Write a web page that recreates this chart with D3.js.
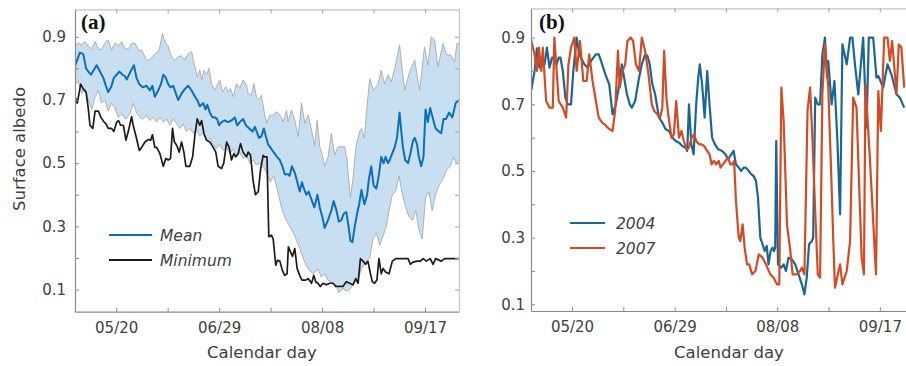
<!DOCTYPE html>
<html>
<head>
<meta charset="utf-8">
<script src="https://cdn.jsdelivr.net/npm/d3@7"></script>
<style>
  body { margin: 0; background: #fff; }
  svg { display: block; font-family: "DejaVu Sans", sans-serif; }
</style>
</head>
<body>
<svg id="chart" width="906" height="366"></svg>
<script>
// day of year -> value
const xTickDays = [140, 160, 180, 200, 220, 240, 260];
const xTickLabels = ["05/20", "", "06/29", "", "08/08", "", "09/17"];
const yTickVals = [0.1, 0.2, 0.3, 0.4, 0.5, 0.6, 0.7, 0.8, 0.9];
const yTickLabels = ["0.1", "", "0.3", "", "0.5", "", "0.7", "", "0.9"];

// panel (a)
const meanA = [[124.0,0.807],[125.9,0.85],[127.2,0.845],[128.3,0.80],[129.2,0.79],[130.2,0.78],[132.4,0.81],[133.7,0.79],[135.0,0.77],[136.0,0.745],[136.9,0.725],[138.0,0.74],[139.1,0.77],[140.2,0.78],[141.2,0.79],[142.5,0.78],[143.4,0.775],[144.1,0.765],[145.6,0.79],[146.9,0.81],[147.9,0.77],[149.0,0.75],[150.3,0.74],[151.8,0.745],[153.1,0.73],[154.1,0.745],[155.0,0.71],[156.3,0.73],[157.4,0.75],[158.3,0.78],[159.3,0.77],[160.2,0.75],[161.1,0.74],[162.2,0.745],[163.2,0.72],[164.1,0.70],[165.4,0.72],[166.7,0.735],[168.0,0.745],[169.3,0.73],[170.6,0.71],[171.5,0.70],[172.5,0.68],[173.8,0.69],[174.7,0.67],[175.4,0.685],[176.4,0.66],[177.4,0.645],[178.3,0.645],[179.2,0.64],[180.0,0.62],[180.9,0.63],[182.2,0.635],[183.5,0.63],[184.8,0.635],[186.1,0.645],[187.0,0.62],[188.0,0.63],[189.3,0.64],[190.4,0.62],[191.7,0.61],[193.0,0.60],[193.9,0.615],[194.8,0.595],[195.5,0.58],[196.4,0.585],[197.4,0.61],[198.0,0.59],[199.0,0.56],[199.9,0.55],[200.7,0.54],[201.6,0.53],[202.5,0.52],[203.6,0.51],[204.6,0.49],[205.5,0.465],[206.8,0.465],[207.4,0.46],[208.3,0.49],[209.4,0.47],[210.4,0.44],[211.3,0.41],[212.2,0.44],[212.9,0.42],[213.9,0.40],[214.8,0.41],[216.1,0.38],[217.0,0.36],[218.2,0.40],[219.1,0.36],[220.1,0.33],[221.0,0.295],[222.3,0.32],[223.6,0.35],[224.5,0.38],[225.6,0.35],[226.5,0.315],[227.5,0.32],[228.4,0.34],[229.4,0.345],[230.3,0.30],[231.0,0.255],[231.8,0.25],[232.7,0.30],[233.6,0.34],[234.4,0.37],[235.3,0.415],[235.9,0.39],[236.5,0.37],[237.5,0.40],[238.2,0.45],[239.1,0.49],[240.0,0.43],[241.1,0.42],[242.0,0.46],[243.0,0.52],[243.9,0.50],[244.7,0.52],[245.6,0.50],[246.3,0.51],[247.2,0.53],[248.2,0.55],[249.1,0.58],[250.1,0.66],[250.8,0.60],[251.4,0.55],[252.3,0.51],[253.4,0.50],[254.3,0.53],[255.3,0.57],[256.0,0.58],[256.9,0.56],[257.6,0.52],[258.5,0.49],[259.4,0.52],[260.2,0.67],[261.1,0.63],[262.0,0.675],[263.1,0.64],[264.1,0.61],[265.4,0.60],[266.3,0.595],[267.2,0.64],[268.2,0.64],[269.3,0.66],[270.6,0.645],[271.9,0.69],[273.2,0.70]];

const upperA = [[124.0,0.87],[125.3,0.88],[126.6,0.875],[127.9,0.885],[129.2,0.87],[130.5,0.862],[131.8,0.885],[133.1,0.862],[134.3,0.858],[135.6,0.88],[136.9,0.89],[138.2,0.858],[139.5,0.88],[140.8,0.87],[142.1,0.885],[143.4,0.862],[144.7,0.862],[146.0,0.88],[147.3,0.88],[148.6,0.858],[149.9,0.858],[151.2,0.837],[151.8,0.826],[152.8,0.826],[154.1,0.837],[155.4,0.847],[156.7,0.858],[158.0,0.91],[158.9,0.885],[160.2,0.87],[161.5,0.837],[162.8,0.826],[164.1,0.837],[165.4,0.84],[166.7,0.826],[168.0,0.847],[169.3,0.853],[170.6,0.805],[171.5,0.773],[172.5,0.794],[173.2,0.763],[174.1,0.794],[175.1,0.78],[176.1,0.80],[177.0,0.752],[178.3,0.731],[179.2,0.747],[180.3,0.763],[181.3,0.726],[182.6,0.742],[183.5,0.726],[184.4,0.737],[185.5,0.71],[186.7,0.752],[188.0,0.737],[189.3,0.763],[190.6,0.747],[191.3,0.72],[192.6,0.715],[193.5,0.752],[194.5,0.71],[195.5,0.70],[196.4,0.715],[197.4,0.668],[198.4,0.626],[199.7,0.652],[201.0,0.652],[202.3,0.663],[203.6,0.652],[204.9,0.631],[206.2,0.668],[206.8,0.631],[208.1,0.668],[209.4,0.636],[210.7,0.584],[212.0,0.69],[213.3,0.626],[214.6,0.652],[215.9,0.605],[217.1,0.557],[218.1,0.636],[219.1,0.552],[220.1,0.526],[221.0,0.49],[222.3,0.52],[223.6,0.594],[224.9,0.526],[226.2,0.552],[228.8,0.552],[229.7,0.51],[231.0,0.39],[232.0,0.45],[233.1,0.55],[234.6,0.60],[235.3,0.61],[236.5,0.58],[237.2,0.657],[238.5,0.768],[240.0,0.73],[241.7,0.75],[243.0,0.794],[244.3,0.75],[245.6,0.78],[246.9,0.757],[248.2,0.80],[250.1,0.874],[252.1,0.731],[254.0,0.79],[256.0,0.826],[257.9,0.731],[259.8,0.868],[261.1,0.81],[262.4,0.90],[263.7,0.89],[265.0,0.805],[267.0,0.879],[268.2,0.845],[270.2,0.84],[271.5,0.82],[272.4,0.879],[273.2,0.88]];

const lowerA = [[124.0,0.75],[125.3,0.76],[126.6,0.72],[127.9,0.735],[129.2,0.70],[130.5,0.67],[131.8,0.71],[133.1,0.73],[134.3,0.69],[135.6,0.70],[136.9,0.665],[138.2,0.69],[139.5,0.675],[140.8,0.645],[142.1,0.655],[143.8,0.64],[145.3,0.655],[146.6,0.69],[147.9,0.66],[149.2,0.645],[150.5,0.64],[151.8,0.65],[153.1,0.635],[154.4,0.645],[155.7,0.63],[157.0,0.645],[158.3,0.63],[159.6,0.64],[160.9,0.62],[162.2,0.64],[163.5,0.625],[164.8,0.61],[166.0,0.625],[167.3,0.60],[168.6,0.61],[169.9,0.595],[171.2,0.605],[172.5,0.585],[173.8,0.595],[175.1,0.57],[176.4,0.58],[177.7,0.56],[179.0,0.545],[180.3,0.56],[181.6,0.54],[182.9,0.55],[184.2,0.53],[185.5,0.545],[186.7,0.52],[188.0,0.535],[189.3,0.515],[190.6,0.525],[191.9,0.50],[193.2,0.51],[194.5,0.495],[195.8,0.50],[197.1,0.49],[198.4,0.47],[199.9,0.44],[201.2,0.46],[202.5,0.42],[204.2,0.36],[205.5,0.33],[207.4,0.30],[209.4,0.27],[211.3,0.23],[212.6,0.20],[213.9,0.175],[215.2,0.16],[216.5,0.15],[218.4,0.165],[219.7,0.14],[221.0,0.15],[222.3,0.13],[224.3,0.12],[225.6,0.11],[226.6,0.09],[228.1,0.105],[229.4,0.095],[230.7,0.10],[232.0,0.115],[234.0,0.135],[235.3,0.165],[237.2,0.19],[238.5,0.20],[239.8,0.26],[241.1,0.28],[242.4,0.24],[243.7,0.27],[245.0,0.30],[246.0,0.35],[247.3,0.40],[248.6,0.41],[249.9,0.46],[251.2,0.40],[252.5,0.36],[253.8,0.33],[255.1,0.32],[256.4,0.35],[257.6,0.29],[258.9,0.26],[260.2,0.39],[261.5,0.41],[262.8,0.35],[264.1,0.40],[265.4,0.43],[267.0,0.45],[268.5,0.48],[269.8,0.49],[271.1,0.52],[272.2,0.50],[273.2,0.51]];

const minA = [[124.0,0.71],[124.9,0.69],[126.2,0.75],[127.2,0.735],[128.3,0.725],[129.2,0.67],[129.8,0.62],[130.9,0.61],[131.8,0.665],[133.1,0.665],[134.1,0.645],[135.3,0.63],[136.0,0.625],[136.9,0.61],[138.2,0.61],[139.1,0.60],[140.2,0.63],[140.9,0.635],[141.7,0.62],[142.8,0.62],[143.8,0.573],[144.7,0.60],[146.0,0.647],[146.6,0.62],[147.7,0.585],[149.0,0.54],[149.9,0.55],[151.2,0.567],[152.5,0.575],[153.4,0.573],[154.1,0.59],[155.0,0.55],[155.7,0.55],[157.0,0.53],[158.3,0.49],[159.3,0.515],[160.2,0.51],[161.1,0.515],[161.9,0.61],[162.6,0.567],[163.5,0.557],[164.5,0.535],[165.4,0.567],[166.3,0.535],[167.1,0.49],[168.6,0.49],[169.7,0.52],[170.6,0.59],[171.5,0.64],[172.5,0.62],[173.2,0.635],[174.1,0.594],[175.1,0.573],[176.4,0.567],[177.7,0.55],[178.7,0.535],[179.6,0.49],[180.9,0.483],[181.8,0.50],[182.9,0.567],[183.9,0.55],[184.8,0.51],[185.7,0.53],[186.5,0.52],[187.4,0.53],[188.3,0.562],[189.3,0.535],[190.6,0.52],[191.3,0.535],[192.2,0.525],[193.2,0.445],[194.1,0.40],[195.2,0.41],[196.1,0.48],[197.1,0.525],[197.7,0.52],[198.6,0.52],[199.3,0.267],[200.3,0.272],[201.0,0.26],[202.0,0.177],[202.7,0.193],[203.6,0.19],[204.6,0.16],[205.5,0.145],[206.4,0.15],[206.9,0.235],[207.7,0.22],[208.5,0.205],[209.4,0.23],[210.3,0.167],[211.3,0.145],[212.2,0.13],[213.7,0.13],[214.6,0.135],[215.9,0.12],[216.8,0.145],[217.5,0.125],[218.4,0.12],[219.3,0.11],[220.4,0.12],[221.7,0.115],[223.0,0.12],[224.3,0.12],[225.3,0.11],[226.9,0.11],[228.1,0.11],[229.4,0.125],[230.7,0.12],[232.0,0.115],[233.1,0.135],[234.0,0.12],[234.9,0.198],[235.9,0.19],[236.9,0.18],[237.8,0.19],[238.8,0.15],[239.5,0.125],[240.4,0.12],[241.3,0.13],[242.1,0.198],[243.0,0.15],[243.7,0.167],[244.7,0.156],[246.0,0.15],[247.3,0.19],[248.6,0.198],[253.4,0.198],[254.3,0.18],[255.3,0.187],[256.9,0.19],[258.2,0.19],[259.2,0.198],[260.5,0.19],[262.0,0.198],[263.1,0.18],[264.1,0.198],[266.3,0.19],[267.6,0.198],[273.2,0.198]];

// panel (b)
const y2004 = [[124.1,0.743],[125.4,0.80],[126.3,0.868],[127.3,0.81],[128.4,0.815],[129.3,0.82],[130.2,0.87],[131.2,0.81],[132.2,0.84],[133.1,0.84],[134.0,0.82],[134.8,0.84],[135.5,0.84],[136.4,0.80],[137.4,0.72],[138.3,0.70],[139.6,0.70],[140.5,0.80],[141.8,0.90],[142.8,0.85],[144.8,0.82],[146.1,0.81],[147.4,0.83],[149.3,0.85],[150.4,0.85],[151.3,0.83],[153.0,0.79],[154.5,0.76],[155.8,0.67],[157.1,0.70],[158.4,0.76],[159.4,0.82],[160.3,0.78],[161.4,0.73],[162.5,0.70],[163.3,0.69],[164.6,0.71],[165.9,0.77],[167.2,0.82],[168.5,0.85],[169.4,0.845],[170.3,0.82],[171.3,0.76],[172.4,0.73],[173.9,0.66],[175.2,0.645],[176.5,0.625],[177.8,0.62],[179.1,0.60],[180.4,0.59],[181.7,0.585],[183.0,0.575],[184.3,0.57],[184.9,0.56],[185.6,0.70],[186.5,0.58],[187.4,0.55],[188.4,0.70],[189.2,0.78],[189.8,0.82],[190.7,0.76],[191.7,0.66],[192.7,0.80],[193.6,0.70],[194.6,0.60],[195.7,0.58],[197.0,0.565],[198.5,0.56],[199.8,0.55],[200.8,0.535],[201.7,0.545],[203.0,0.56],[203.9,0.52],[205.0,0.51],[206.0,0.50],[206.9,0.51],[207.8,0.51],[208.9,0.50],[209.9,0.49],[210.8,0.485],[211.7,0.47],[212.5,0.42],[213.4,0.30],[214.3,0.28],[215.1,0.26],[215.9,0.275],[216.6,0.22],[217.4,0.26],[218.2,0.27],[218.7,0.26],[219.2,0.27],[219.6,0.59],[220.3,0.22],[221.6,0.21],[222.5,0.22],[223.4,0.20],[224.4,0.24],[225.7,0.235],[227.0,0.22],[228.3,0.19],[229.6,0.16],[230.6,0.13],[231.5,0.18],[232.4,0.28],[233.5,0.29],[234.0,0.30],[234.8,0.72],[235.8,0.70],[236.7,0.70],[237.6,0.85],[238.6,0.90],[239.4,0.78],[239.9,0.83],[241.2,0.70],[242.3,0.77],[243.4,0.60],[244.5,0.37],[245.4,0.88],[247.1,0.82],[248.4,0.90],[249.3,0.90],[250.3,0.82],[251.6,0.73],[253.5,0.90],[254.8,0.63],[255.7,0.90],[257.4,0.90],[258.7,0.78],[259.4,0.785],[261.3,0.75],[263.0,0.82],[264.5,0.79],[266.5,0.73],[267.8,0.72],[269.5,0.69]];

const y2007 = [[123.8,0.90],[125.4,0.85],[126.3,0.80],[127.1,0.87],[128.0,0.80],[128.6,0.87],[129.9,0.71],[131.2,0.69],[132.5,0.69],[133.1,0.90],[134.0,0.80],[134.8,0.71],[136.4,0.69],[137.7,0.66],[138.6,0.82],[139.6,0.87],[140.9,0.90],[141.8,0.80],[143.1,0.89],[144.4,0.77],[145.7,0.77],[146.7,0.85],[148.0,0.77],[149.3,0.71],[150.4,0.66],[151.7,0.645],[152.7,0.64],[153.9,0.63],[154.8,0.625],[155.8,0.62],[156.8,0.68],[157.9,0.86],[158.6,0.75],[159.7,0.80],[160.7,0.82],[161.6,0.89],[162.9,0.90],[163.8,0.89],[164.9,0.82],[166.1,0.80],[167.2,0.90],[168.5,0.86],[169.8,0.79],[171.1,0.70],[172.0,0.68],[173.3,0.67],[174.3,0.66],[175.2,0.69],[175.9,0.86],[176.8,0.72],[177.5,0.67],[178.8,0.60],[179.7,0.61],[180.6,0.71],[181.7,0.60],[182.7,0.62],[183.6,0.59],[184.7,0.565],[185.6,0.57],[186.6,0.60],[187.6,0.61],[188.4,0.59],[189.5,0.58],[190.5,0.58],[191.4,0.575],[192.7,0.56],[193.6,0.55],[194.4,0.52],[195.3,0.53],[196.2,0.52],[197.2,0.53],[197.9,0.51],[198.8,0.52],[199.8,0.53],[200.8,0.54],[201.7,0.52],[202.4,0.52],[203.2,0.53],[203.9,0.41],[205.0,0.30],[205.6,0.29],[206.5,0.34],[207.3,0.27],[208.2,0.22],[209.1,0.22],[210.2,0.19],[211.5,0.20],[212.8,0.25],[214.3,0.24],[215.6,0.22],[217.3,0.19],[218.6,0.18],[219.9,0.16],[220.8,0.16],[221.6,0.75],[222.5,0.65],[223.8,0.34],[225.1,0.26],[226.0,0.19],[227.6,0.19],[228.9,0.20],[229.6,0.21],[230.6,0.19],[231.8,0.68],[232.8,0.75],[233.7,0.60],[234.8,0.38],[235.8,0.19],[236.7,0.18],[237.6,0.73],[238.6,0.88],[239.9,0.75],[241.0,0.50],[241.9,0.28],[242.5,0.15],[244.5,0.22],[245.4,0.16],[247.1,0.20],[248.4,0.29],[249.6,0.72],[250.9,0.69],[252.9,0.24],[253.8,0.19],[254.4,0.76],[256.1,0.54],[258.5,0.19],[259.4,0.74],[260.4,0.62],[261.7,0.90],[263.0,0.90],[263.9,0.83],[264.8,0.89],[266.5,0.73],[267.4,0.88],[268.4,0.87],[269.5,0.75]];

const svg = d3.select("#chart");
const defs = svg.append("defs");

const panelA = { id: "a", left: 75, right: 459, top: 9.3, bottom: 311.7, yDomain: [0.03, 0.987], yPad: 9, label: "(a)" };
const panelB = { id: "b", left: 531, right: 913.7, top: 8.3, bottom: 311, yDomain: [0.08, 0.988], yPad: 6, label: "(b)" };
const xDomain = [124, 273.2];

function makeScales(p) {
  const x = d3.scaleLinear().domain(xDomain).range([p.left, p.right]);
  const y = d3.scaleLinear().domain(p.yDomain).range([p.bottom, p.top]);
  return { x, y };
}

function drawAxes(p, x, y) {
  const g = svg.append("g");
  const xFmt = d => xTickLabels[xTickDays.indexOf(d)];
  const yFmt = d => yTickLabels[yTickVals.indexOf(d)];

  const bottom = g.append("g")
    .attr("transform", "translate(0," + p.bottom + ")")
    .call(d3.axisBottom(x).tickValues(xTickDays).tickFormat(xFmt)
      .tickSizeInner(-4).tickSizeOuter(0).tickPadding(10.5));
  const left = g.append("g")
    .attr("transform", "translate(" + p.left + ",0)")
    .call(d3.axisLeft(y).tickValues(yTickVals).tickFormat(yFmt)
      .tickSizeInner(-4).tickSizeOuter(0).tickPadding(p.yPad));
  const top = g.append("g")
    .attr("transform", "translate(0," + p.top + ")")
    .call(d3.axisTop(x).tickValues(xTickDays).tickFormat("")
      .tickSizeInner(-4).tickSizeOuter(0));
  const right = g.append("g")
    .attr("transform", "translate(" + p.right + ",0)")
    .call(d3.axisRight(y).tickValues(yTickVals).tickFormat("")
      .tickSizeInner(-4).tickSizeOuter(0));

  [bottom, left].forEach(a => {
    a.select(".domain").attr("stroke", "#8a8a8a").attr("stroke-width", 1.2);
    a.selectAll(".tick line").attr("stroke", "#8a8a8a");
  });
  [top, right].forEach(a => {
    a.select(".domain").attr("stroke", "#c4c4c4").attr("stroke-width", 1.2);
    a.selectAll(".tick line").attr("stroke", "#a0a0a0");
  });
  g.selectAll("text")
    .attr("fill", "#404040")
    .style("font-size", "15px")
    .style("font-family", "'DejaVu Sans', sans-serif");
}

function clipFor(p) {
  defs.append("clipPath").attr("id", "clip-" + p.id)
    .append("rect")
    .attr("x", p.left).attr("y", p.top)
    .attr("width", p.right - p.left).attr("height", p.bottom - p.top);
  return svg.append("g").attr("clip-path", "url(#clip-" + p.id + ")");
}

function addLine(g, data, line, color, width) {
  g.append("path")
    .datum(data)
    .attr("d", line)
    .attr("fill", "none")
    .attr("stroke", color)
    .attr("stroke-width", width)
    .attr("stroke-linejoin", "round");
}

function addLegend(items, x0, y0, gap) {
  const lg = svg.append("g");
  items.forEach((it, i) => {
    const yy = y0 + i * gap;
    lg.append("line")
      .attr("x1", x0).attr("x2", x0 + it.len)
      .attr("y1", yy).attr("y2", yy)
      .attr("stroke", it.color).attr("stroke-width", 2.2);
    lg.append("text")
      .attr("x", x0 + it.len + it.pad).attr("y", yy + 5.5)
      .attr("fill", "#404040")
      .style("font-size", "15.5px")
      .style("font-style", "italic")
      .text(it.name);
  });
}

function drawPanelLabel(p, x, y) {
  svg.append("text")
    .attr("x", x).attr("y", y)
    .style("font-family", "'Liberation Serif', 'Times New Roman', serif")
    .style("font-weight", "bold")
    .style("font-size", "21px")
    .attr("fill", "#111")
    .text(p.label);
}

// ---- panel (a)
{
  const { x, y } = makeScales(panelA);
  const line = d3.line().x(d => x(d[0])).y(d => y(d[1]));
  const g = clipFor(panelA);

  const band = upperA.concat(lowerA.slice().reverse());
  g.append("path")
    .datum(band)
    .attr("d", d => line(d) + "Z")
    .attr("fill", "#c7dff1")
    .attr("stroke", "none");
  addLine(g, upperA, line, "#a9a9a9", 0.9);
  addLine(g, lowerA, line, "#a9a9a9", 0.9);
  addLine(g, meanA, line, "#0b6fbd", 2);
  addLine(g, minA, line, "#1c1c1c", 1.7);

  drawAxes(panelA, x, y);
  addLegend([
    { name: "Mean", color: "#0b6fbd", len: 43, pad: 8 },
    { name: "Minimum", color: "#1c1c1c", len: 43, pad: 8 }
  ], 109, 235, 25);
  drawPanelLabel(panelA, 81, 29);
}

// ---- panel (b)
{
  const { x, y } = makeScales(panelB);
  const line = d3.line().x(d => x(d[0])).y(d => y(d[1]));
  const g = clipFor(panelB);

  addLine(g, y2004, line, "#1a6796", 2.2);
  addLine(g, y2007, line, "#d44a22", 2.2);

  drawAxes(panelB, x, y);
  addLegend([
    { name: "2004", color: "#1a6796", len: 35, pad: 11 },
    { name: "2007", color: "#d44a22", len: 35, pad: 11 }
  ], 570, 223, 25);
  drawPanelLabel(panelB, 539, 29);
}

// axis titles
svg.append("text")
  .attr("transform", "translate(25,149) rotate(-90)")
  .attr("text-anchor", "middle")
  .attr("fill", "#404040")
  .style("font-size", "16.5px")
  .text("Surface albedo");

[262, 729].forEach(cx => {
  svg.append("text")
    .attr("x", cx).attr("y", 358)
    .attr("text-anchor", "middle")
    .attr("fill", "#404040")
    .style("font-size", "16.5px")
    .text("Calendar day");
});
</script>
</body>
</html>
